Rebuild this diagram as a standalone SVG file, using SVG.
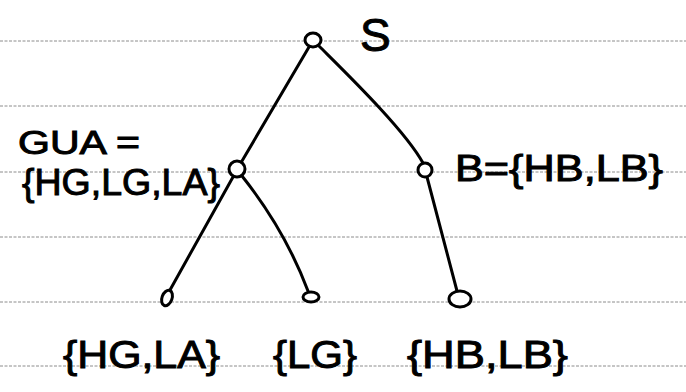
<svg xmlns="http://www.w3.org/2000/svg" width="686" height="392" viewBox="0 0 686 392">
  <style>
    .rule { stroke: #8c8c8c; stroke-width: 1; stroke-dasharray: 3 1.5; fill: none; }
    .edge { stroke: #000; stroke-width: 3; fill: none; stroke-linecap: round; }
    .node { stroke: #000; stroke-width: 3; fill: #fff; }
    .lbl { font-family: "Liberation Sans", Arial, sans-serif; fill: #000; stroke: #000; stroke-width: 1; }
  </style>
  <rect width="686" height="392" fill="#fff"/>
  <g id="paper-lines">
    <line class="rule" x1="0" y1="41" x2="686" y2="41"/>
    <line class="rule" x1="0" y1="106" x2="686" y2="106"/>
    <line class="rule" x1="0" y1="172" x2="686" y2="172"/>
    <line class="rule" x1="0" y1="237" x2="686" y2="237"/>
    <line class="rule" x1="0" y1="302" x2="686" y2="302"/>
    <line class="rule" x1="0" y1="366" x2="686" y2="366"/>
  </g>
  <g id="connectors">
    <path class="edge" d="M309 47 L242 161"/>
    <path class="edge" d="M319 46 C345 72 405 130 423 163"/>
    <path class="edge" d="M233 177 L170 290"/>
    <path class="edge" d="M242 176 Q285 230 308 291"/>
    <path class="edge" d="M427 177 L457 291"/>
  </g>
  <g id="node-S">
    <ellipse class="node" cx="313" cy="40" rx="8" ry="7"/>
    <text class="lbl" x="360" y="51" font-size="46">S</text>
  </g>
  <g id="node-GUA">
    <ellipse class="node" cx="237" cy="169" rx="8" ry="8"/>
    <text class="lbl" x="18" y="154" font-size="34" textLength="122" lengthAdjust="spacingAndGlyphs">GUA =</text>
    <text class="lbl" x="22" y="195" font-size="37" textLength="198" lengthAdjust="spacingAndGlyphs">{HG,LG,LA}</text>
  </g>
  <g id="node-B">
    <ellipse class="node" cx="425" cy="170" rx="7" ry="7"/>
    <text class="lbl" x="455" y="181" font-size="37" textLength="208" lengthAdjust="spacingAndGlyphs">B={HB,LB}</text>
  </g>
  <g id="node-HGLA">
    <ellipse class="node" cx="167" cy="298" rx="5" ry="8" transform="rotate(20 167 298)"/>
    <text class="lbl" x="63" y="368" font-size="39" textLength="157" lengthAdjust="spacingAndGlyphs">{HG,LA}</text>
  </g>
  <g id="node-LG">
    <ellipse class="node" cx="311" cy="297" rx="8" ry="5"/>
    <text class="lbl" x="273" y="368" font-size="39" textLength="84" lengthAdjust="spacingAndGlyphs">{LG}</text>
  </g>
  <g id="node-HBLB">
    <ellipse class="node" cx="460" cy="299" rx="11" ry="8"/>
    <text class="lbl" x="407" y="368" font-size="39" textLength="161" lengthAdjust="spacingAndGlyphs">{HB,LB}</text>
  </g>
</svg>
